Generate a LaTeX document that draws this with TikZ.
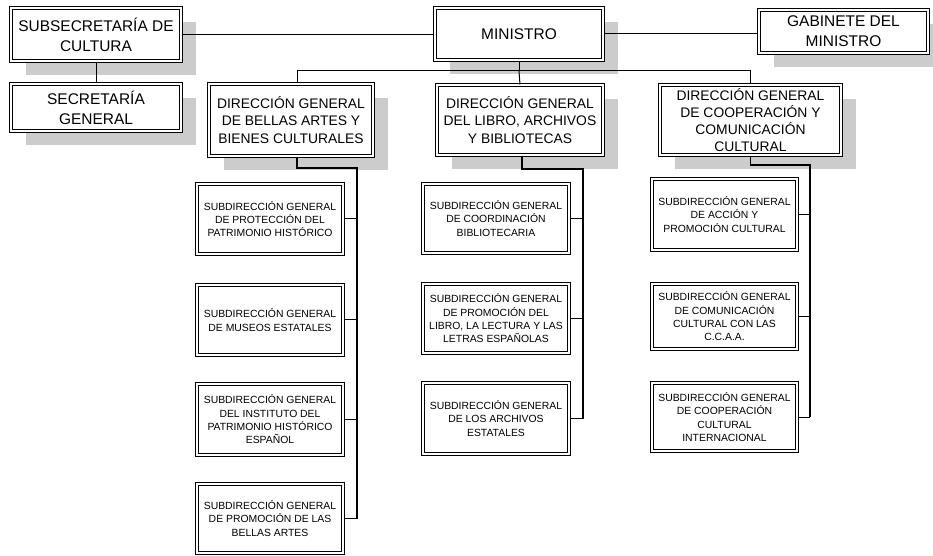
\documentclass[tikz,border=0pt]{standalone}
\usepackage{fontspec}
\setmainfont{Liberation Sans}
\usetikzlibrary{shadows,calc}

\begin{document}
\begin{tikzpicture}[x=0.75pt,y=-0.75pt,
  marco/.style 2 args={draw,double,double distance=1.6pt,line width=0.8pt,fill=white,
    align=center,inner sep=0pt,minimum width=#1*0.75pt,minimum height=#2*0.75pt},
  alto/.style 2 args={marco={#1}{#2},font=\fontsize{11.6}{15}\selectfont,
    drop shadow={shadow xshift=11.25pt,shadow yshift=-10.5pt,fill=black!20,opacity=1}},
  dir/.style 2 args={marco={#1}{#2},font=\fontsize{10.4}{12.8}\selectfont,
    drop shadow={shadow xshift=11.25pt,shadow yshift=-10.5pt,fill=black!20,opacity=1}},
  subdir/.style 2 args={marco={#1}{#2},font=\fontsize{7.8}{10}\selectfont},
  enlace/.style={line width=0.75pt},
  tronco/.style={line width=1.2pt}]
\useasboundingbox (0,0) rectangle (933,556);

\node [alto={170}{53}] (subsec) at (96,34.5) {SUBSECRETARÍA DE\\CULTURA};
\node [alto={170}{47}] (secgen) at (96,107.5) {SECRETARÍA\\GENERAL};
\node [alto={168}{52}] (ministro) at (519,34) {MINISTRO};
\node [alto={169}{43}] (gabinete) at (843.5,31.5) {GABINETE DEL\\MINISTRO};

\node [dir={164}{72}] (dgba) at (291,120) {DIRECCIÓN GENERAL\\DE BELLAS ARTES Y\\BIENES CULTURALES};
\node [dir={166}{70}] (dglibro) at (520,120) {DIRECCIÓN GENERAL\\DEL LIBRO, ARCHIVOS\\Y BIBLIOTECAS};
\node [dir={181}{70}] (dgcoop) at (750.5,120) {DIRECCIÓN GENERAL\\DE COOPERACIÓN Y\\COMUNICACIÓN\\CULTURAL};

\node [subdir={146}{70}] (ba1) at (270,219) {SUBDIRECCIÓN GENERAL\\DE PROTECCIÓN DEL\\PATRIMONIO HISTÓRICO};
\node [subdir={146}{70}] (ba2) at (270,320) {SUBDIRECCIÓN GENERAL\\DE MUSEOS ESTATALES};
\node [subdir={146}{71}] (ba3) at (270,419.5) {SUBDIRECCIÓN GENERAL\\DEL INSTITUTO DEL\\PATRIMONIO HISTÓRICO\\ESPAÑOL};
\node [subdir={146}{69}] (ba4) at (270,518.5) {SUBDIRECCIÓN GENERAL\\DE PROMOCIÓN DE LAS\\BELLAS ARTES};

\node [subdir={146}{69}] (li1) at (496,218.5) {SUBDIRECCIÓN GENERAL\\DE COORDINACIÓN\\BIBLIOTECARIA};
\node [subdir={146}{69}] (li2) at (496,318.5) {SUBDIRECCIÓN GENERAL\\DE PROMOCIÓN DEL\\LIBRO, LA LECTURA Y LAS\\LETRAS ESPAÑOLAS};
\node [subdir={146}{71}] (li3) at (496,418.5) {SUBDIRECCIÓN GENERAL\\DE LOS ARCHIVOS\\ESTATALES};

\node [subdir={145}{71}] (co1) at (724.5,214.5) {SUBDIRECCIÓN GENERAL\\DE ACCIÓN Y\\PROMOCIÓN CULTURAL};
\node [subdir={145}{65}] (co2) at (724.5,316.5) {SUBDIRECCIÓN GENERAL\\DE COMUNICACIÓN\\CULTURAL CON LAS\\C.C.A.A.};
\node [subdir={145}{68}] (co3) at (724.5,417) {SUBDIRECCIÓN GENERAL\\DE COOPERACIÓN\\CULTURAL\\INTERNACIONAL};

\coordinate (barra) at (0,71);
\coordinate (tba) at (357,168);
\coordinate (tli) at (583,169);
\coordinate (tco) at (810,165);

\draw [enlace] (subsec) -- (secgen);
\draw [enlace] (subsec.east) -- (subsec.east -| ministro.west);
\draw [enlace] (ministro.east) -- (ministro.east -| gabinete.west);
\draw [enlace] (ministro.south) -- (ministro.south |- barra);
\draw [enlace] ($(dgba.north)+(6,0)$) |- (barra -| dgcoop.north) -- (dgcoop.north);
\draw [enlace] (ministro.south |- barra) -- (dglibro.north);

\draw [tronco] ($(dgba.south)+(6,0)$) |- (tba) -- (tba |- ba4.east);
\draw [tronco] ($(dglibro.south)+(2,0)$) |- (tli) -- (tli |- li3.east);
\draw [tronco] (dgcoop.south) |- (tco) -- (tco |- co3.east);
\foreach \n in {ba1,ba2,ba3,ba4}
  \draw [enlace] (\n.east) -- (\n.east -| tba);
\foreach \n in {li1,li2,li3}
  \draw [enlace] (\n.east) -- (\n.east -| tli);
\foreach \n in {co1,co2,co3}
  \draw [enlace] (\n.east) -- (\n.east -| tco);
\end{tikzpicture}
\end{document}
